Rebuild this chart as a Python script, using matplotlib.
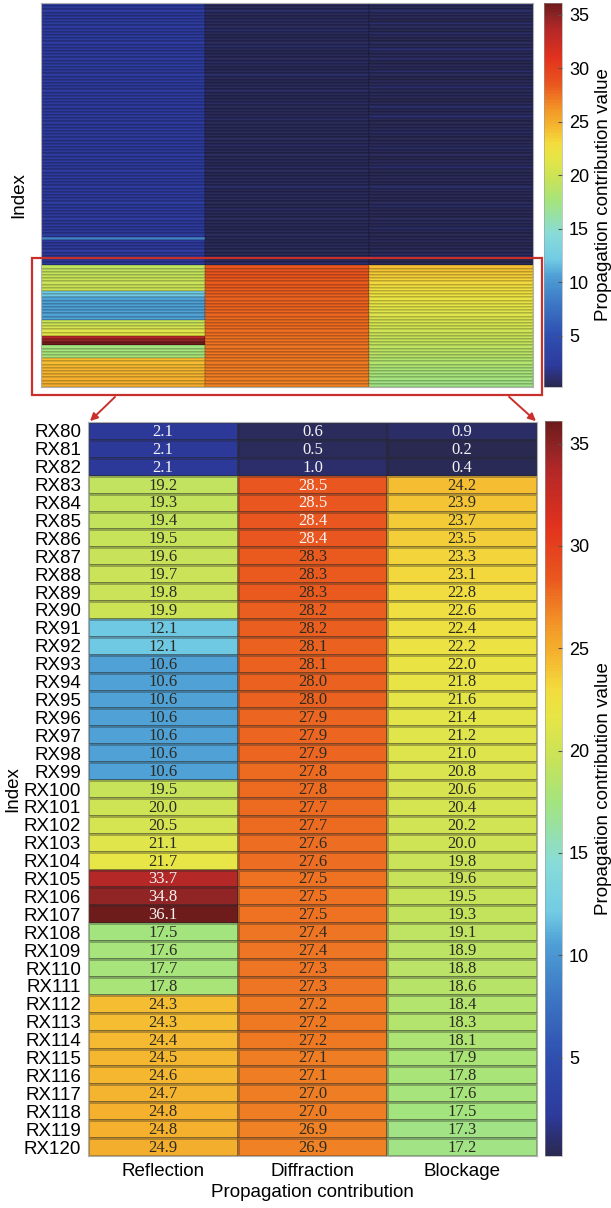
import numpy as np
import matplotlib
matplotlib.use('Agg')
import matplotlib.pyplot as plt
from matplotlib.colors import LinearSegmentedColormap, Normalize
from matplotlib.patches import Rectangle, FancyArrowPatch

plt.rcParams['font.family'] = ['Liberation Sans', 'DejaVu Sans']

# Columns
categories = ["Reflection", "Diffraction", "Blockage"]

# RX1 - RX79 (low contributions)
reflection_top = [
    2.3, 2.2, 2.4, 2.1, 2.3, 2.2, 2.5, 2.3, 2.2, 2.1,
    2.4, 2.3, 2.2, 2.3, 2.1, 2.2, 2.4, 2.3, 2.2, 2.5,
    2.3, 2.1, 2.2, 2.3, 2.4, 2.2, 2.1, 2.3, 2.2, 2.4,
    2.3, 2.2, 2.1, 2.3, 2.2, 2.4, 2.3, 2.1, 2.2, 2.3,
    2.2, 2.4, 2.1, 2.3, 2.2, 2.3, 2.1, 2.2, 2.4, 2.3,
    2.2, 2.1, 2.3, 2.2, 2.4, 2.2, 2.1, 2.3, 2.2, 2.3,
    2.1, 2.2, 2.4, 2.3, 2.2, 2.1, 2.3, 2.2, 2.1, 2.2,
    2.3, 2.1, 2.2, 8.5, 2.2, 2.1, 2.3, 2.2, 2.1,
]
diffraction_top = [
    0.6, 0.5, 0.8, 0.5, 0.4, 0.7, 0.5, 0.6, 0.9, 0.5,
    0.4, 0.6, 0.5, 0.8, 0.5, 0.4, 0.6, 0.5, 0.7, 0.5,
    0.4, 0.6, 0.9, 0.5, 0.4, 0.5, 0.6, 0.7, 0.5, 0.4,
    0.5, 0.7, 0.4, 0.5, 0.6, 0.5, 0.8, 0.4, 0.5, 0.6,
    0.5, 0.4, 0.6, 0.5, 0.7, 0.5, 0.4, 0.5, 0.6, 0.5,
    0.4, 0.7, 0.5, 0.4, 0.6, 0.5, 0.5, 0.8, 0.4, 0.5,
    0.6, 0.5, 0.4, 0.5, 0.7, 0.5, 0.4, 0.6, 0.5, 0.5,
    0.4, 0.6, 0.5, 0.5, 0.4, 0.6, 0.5, 0.4, 0.5,
]
blockage_top = [
    0.7, 0.4, 0.9, 0.5, 0.6, 0.3, 1.0, 0.5, 0.4, 0.8,
    0.5, 0.3, 0.6, 0.5, 1.1, 0.4, 0.5, 0.7, 0.3, 0.6,
    0.4, 0.9, 0.5, 0.3, 0.6, 0.5, 1.0, 0.4, 0.5, 0.6,
    0.3, 0.5, 0.8, 0.4, 0.5, 1.1, 0.4, 0.3, 0.6, 0.5,
    0.7, 0.4, 0.3, 0.6, 0.5, 0.9, 0.4, 0.5, 0.3, 0.6,
    0.5, 1.0, 0.3, 0.4, 0.6, 0.5, 0.3, 0.8, 0.5, 0.4,
    0.6, 0.3, 0.5, 0.9, 0.4, 0.5, 0.3, 0.6, 0.5, 0.4,
    0.8, 0.4, 0.3, 0.6, 0.5, 0.3, 0.5, 0.4, 0.7,
]

# RX80 - RX120 (zoomed table)
rx_labels = [f"RX{i}" for i in range(80, 121)]
reflection = [
    2.1, 2.1, 2.1, 19.2, 19.3, 19.4, 19.5, 19.6, 19.7, 19.8, 19.9,
    12.1, 12.1, 10.6, 10.6, 10.6, 10.6, 10.6, 10.6, 10.6,
    19.5, 20.0, 20.5, 21.1, 21.7, 33.7, 34.8, 36.1,
    17.5, 17.6, 17.7, 17.8,
    24.3, 24.3, 24.4, 24.5, 24.6, 24.7, 24.8, 24.8, 24.9,
]
diffraction = [
    0.6, 0.5, 1.0, 28.5, 28.5, 28.4, 28.4, 28.3, 28.3, 28.3, 28.2,
    28.2, 28.1, 28.1, 28.0, 28.0, 27.9, 27.9, 27.9, 27.8,
    27.8, 27.7, 27.7, 27.6, 27.6, 27.5, 27.5, 27.5,
    27.4, 27.4, 27.3, 27.3,
    27.2, 27.2, 27.2, 27.1, 27.1, 27.0, 27.0, 26.9, 26.9,
]
blockage = [
    0.9, 0.2, 0.4, 24.2, 23.9, 23.7, 23.5, 23.3, 23.1, 22.8, 22.6,
    22.4, 22.2, 22.0, 21.8, 21.6, 21.4, 21.2, 21.0, 20.8,
    20.6, 20.4, 20.2, 20.0, 19.8, 19.6, 19.5, 19.3,
    19.1, 18.9, 18.8, 18.6,
    18.4, 18.3, 18.1, 17.9, 17.8, 17.6, 17.5, 17.3, 17.2,
]

cbar_ticks = [5, 10, 15, 20, 25, 30, 35]

# colormap anchors (value, colour)
cmap_anchors = [
    (0.2, '#2a2952'), (1.0, '#2c2f6e'), (2.1, '#2d3a9c'), (5.0, '#2f4fb0'),
    (8.0, '#3d78c4'), (10.6, '#4fa0d6'), (12.1, '#72cbe4'), (14.5, '#88dcd8'),
    (17.5, '#a4e47e'), (19.5, '#c6e35a'), (21.7, '#e8e546'), (23.0, '#f2dc3e'),
    (24.5, '#f5b830'), (26.0, '#f39a28'), (27.5, '#ee7222'), (28.5, '#e9561f'),
    (31.0, '#e2321e'), (33.7, '#b42828'), (34.8, '#922424'), (36.1, '#6e1b1b'),
]

full = np.column_stack([
    reflection_top + reflection,
    diffraction_top + diffraction,
    blockage_top + blockage,
])
zoom = np.column_stack([reflection, diffraction, blockage])

vmin, vmax = full.min(), full.max()
cmap = LinearSegmentedColormap.from_list(
    "prop", [((v - vmin) / (vmax - vmin), c) for v, c in cmap_anchors])
norm = Normalize(vmin=vmin, vmax=vmax)

W, H = 611, 1208
fig = plt.figure(figsize=(W / 100, H / 100), dpi=100)


def box(x0, y0, x1, y1):
    """pixel box (top-left origin) -> figure fraction rect"""
    return [x0 / W, 1 - y1 / H, (x1 - x0) / W, (y1 - y0) / H]


LAB = 13.5

# ---- overview heatmap ----
ax1 = fig.add_axes(box(41, 3, 533, 387))
ax1.pcolormesh(np.arange(4), np.arange(full.shape[0] + 1), full, cmap=cmap, norm=norm,
               edgecolors=(0, 0, 0, 0.12), linewidth=0.35)
ax1.set_xlim(0, 3)
ax1.set_ylim(full.shape[0], 0)
ax1.set_xticks([])
ax1.set_yticks([])
for s in ax1.spines.values():
    s.set_color('#b0b0b0')
    s.set_linewidth(0.8)
ax1.set_ylabel("Index", fontsize=LAB, labelpad=10)

cax1 = fig.add_axes(box(544, 3, 562, 387))
cb1 = fig.colorbar(plt.cm.ScalarMappable(norm=norm, cmap=cmap), cax=cax1)
cb1.set_ticks(cbar_ticks)
cb1.outline.set_linewidth(0.4)
cb1.outline.set_edgecolor('#999999')
cax1.tick_params(direction='in', length=3, width=0.8, color='#555555', labelsize=13, pad=5)
cb1.set_label("Propagation contribution value", fontsize=LAB, labelpad=4)

# ---- zoomed heatmap ----
ax2 = fig.add_axes(box(88, 422, 537, 1156))
ax2.pcolormesh(np.arange(4), np.arange(len(rx_labels) + 1), zoom, cmap=cmap, norm=norm,
               edgecolors=(0.15, 0.15, 0.15, 0.32), linewidth=0.9)
ax2.set_xlim(0, 3)
ax2.set_ylim(len(rx_labels), 0)
for i in range(zoom.shape[0]):
    for j in range(zoom.shape[1]):
        v = zoom[i, j]
        col = '#f4f4f4' if (v < 5 or v > 28.35) else '#2b2b22'
        ax2.text(j + 0.5, i + 0.55, f"{v:.1f}", ha='center', va='center',
                 fontsize=12, color=col, family=['Liberation Serif', 'DejaVu Serif'])
ax2.set_xticks(np.arange(3) + 0.5)
ax2.set_xticklabels(categories, fontsize=LAB)
ax2.set_yticks(np.arange(len(rx_labels)) + 0.5)
ax2.set_yticklabels(rx_labels, fontsize=LAB)
ax2.tick_params(length=0, pad=5)
ax2.tick_params(axis='x', pad=5)
for s in ax2.spines.values():
    s.set_color('#b0b0b0')
    s.set_linewidth(0.8)
ax2.set_ylabel("Index", fontsize=LAB, labelpad=2)
ax2.set_xlabel("Propagation contribution", fontsize=LAB, labelpad=3)

cax2 = fig.add_axes(box(545, 421, 562, 1156))
cb2 = fig.colorbar(plt.cm.ScalarMappable(norm=norm, cmap=cmap), cax=cax2)
cb2.set_ticks(cbar_ticks)
cb2.outline.set_linewidth(0.4)
cb2.outline.set_edgecolor('#999999')
cax2.tick_params(direction='in', length=3, width=0.8, color='#555555', labelsize=13, pad=5)
cb2.set_label("Propagation contribution value", fontsize=LAB, labelpad=4)

# ---- red highlight box and arrows ----
red = '#c9302c'
fig.patches.append(Rectangle((32 / W, 1 - 395 / H), 510 / W, 137 / H,
                             transform=fig.transFigure, fill=False,
                             edgecolor=red, linewidth=1.6))
for (x0, y0), (x1, y1) in [((117, 395), (88, 423)), ((507, 395), (538, 423))]:
    fig.patches.append(FancyArrowPatch((x0 / W, 1 - y0 / H), (x1 / W, 1 - y1 / H),
                                       transform=fig.transFigure, arrowstyle='-|>',
                                       mutation_scale=11, color=red, linewidth=1.4))

fig.savefig("out.png", dpi=100)
